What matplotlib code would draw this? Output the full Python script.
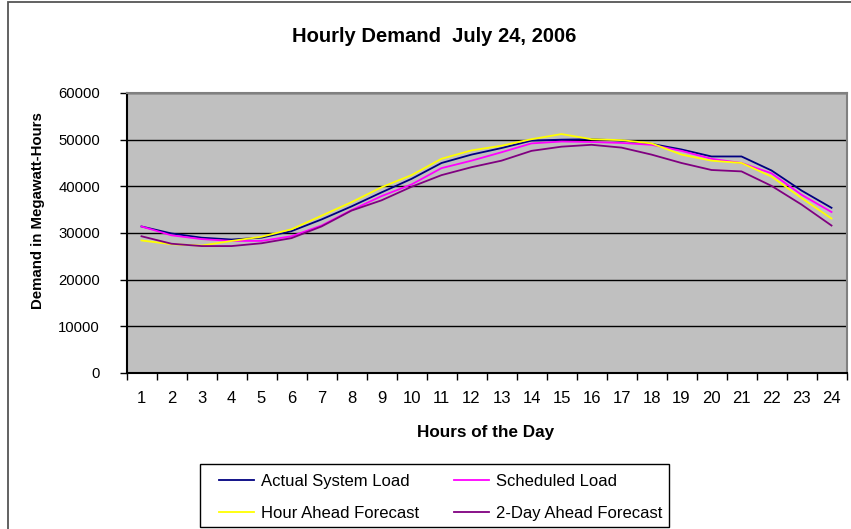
import matplotlib
matplotlib.use("Agg")
import matplotlib.pyplot as plt
from matplotlib.patches import Rectangle
from matplotlib.ticker import FixedLocator, NullFormatter

plt.rcParams['font.family'] = ['Liberation Sans', 'DejaVu Sans']

hours = list(range(1, 25))
actual = [31400, 29900, 29000, 28600, 29000, 30400, 32900, 35700, 38700, 41600, 45000, 46800,
          48200, 49800, 50000, 50100, 49800, 49100, 47900, 46400, 46400, 43400, 39100, 35400]
scheduled = [31400, 29500, 28700, 28300, 28300, 29300, 31600, 34900, 37900, 40400, 43900, 45500,
             47300, 49200, 49600, 49500, 49300, 48900, 47600, 45900, 45000, 42800, 38200, 34500]
hour_ahead = [28400, 27600, 27300, 28300, 29200, 30800, 33700, 36600, 39800, 42400, 45900, 47700,
              48700, 50100, 51200, 50100, 49900, 49200, 46800, 45500, 45000, 42100, 37500, 33100]
two_day = [29300, 27700, 27200, 27200, 27800, 28900, 31400, 34800, 37000, 39900, 42400, 44100,
           45500, 47600, 48500, 48900, 48300, 46800, 45000, 43500, 43200, 40100, 36100, 31600]

series = [
    ("Actual System Load", actual, "#000080"),
    ("Scheduled Load", scheduled, "#FF00FF"),
    ("Hour Ahead Forecast", hour_ahead, "#FFFF00"),
    ("2-Day Ahead Forecast", two_day, "#800080"),
]
yticks = [0, 10000, 20000, 30000, 40000, 50000, 60000]

W, H = 851, 529
fig = plt.figure(figsize=(W / 100, H / 100), dpi=100)
fig.patch.set_facecolor("white")

# outer chart border (extends beyond right/bottom like the cropped original)
fig.patches.append(Rectangle((8 / W, -0.05), 1.1, 1 - 2 / H + 0.05, transform=fig.transFigure,
                             fill=False, edgecolor="#555555", linewidth=1.3))

ax = fig.add_axes([126.5 / W, 1 - 373 / H, 720 / W, 280 / H])
ax.set_facecolor("#C0C0C0")

handles = {}
for name, vals, col in series:
    ln, = ax.plot(hours, vals, color=col, linewidth=1.3, label=name)
    handles[name] = ln

ax.set_xlim(0.5, 24.5)
ax.set_ylim(0, 60000)
ax.set_yticks(yticks)
ax.set_yticklabels([str(v) for v in yticks])
ax.yaxis.grid(True, color="black", linewidth=1.0)
ax.set_axisbelow(True)

ax.xaxis.set_major_locator(FixedLocator([h + 0.5 for h in range(0, 25)]))
ax.xaxis.set_major_formatter(NullFormatter())
ax.set_xticks(hours, minor=True)
ax.set_xticklabels([str(h) for h in hours], minor=True)
ax.tick_params(axis="x", which="major", direction="out", length=5, width=1, color="black")
ax.tick_params(axis="x", which="minor", length=0, pad=13, labelsize=12)
ax.tick_params(axis="y", direction="out", length=5, width=1, color="black", pad=14, labelsize=10.7)

for s in ("top", "right"):
    ax.spines[s].set_color("#808080")
    ax.spines[s].set_linewidth(1.5)
for s in ("left", "bottom"):
    ax.spines[s].set_color("black")
    ax.spines[s].set_linewidth(1.5)

fig.text(434 / W, 1 - 36 / H, "Hourly Demand  July 24, 2006", ha="center", va="center",
         fontsize=14.5, fontweight="bold")
fig.text(38 / W, 1 - 211 / H, "Demand in Megawatt-Hours", ha="center", va="center",
         rotation=90, fontsize=10.8, fontweight="bold")
fig.text(486 / W, 1 - 432 / H, "Hours of the Day", ha="center", va="center",
         fontsize=12.3, fontweight="bold")

# legend frame
fig.patches.append(Rectangle((200 / W, 1 - 527 / H), 469 / W, 63 / H, transform=fig.transFigure,
                             fill=False, edgecolor="black", linewidth=1.0))
common = dict(loc="center left", fontsize=12, frameon=False, handlelength=2.1,
              handletextpad=0.42, borderpad=0, labelspacing=1.02, borderaxespad=0)
col1 = ["Actual System Load", "Hour Ahead Forecast"]
col2 = ["Scheduled Load", "2-Day Ahead Forecast"]
leg1 = fig.legend([handles[n] for n in col1], col1, bbox_to_anchor=(219 / W, 1 - 497.5 / H), **common)
leg2 = fig.legend([handles[n] for n in col2], col2, bbox_to_anchor=(454 / W, 1 - 497.5 / H), **common)

fig.savefig("out.png", dpi=100)
